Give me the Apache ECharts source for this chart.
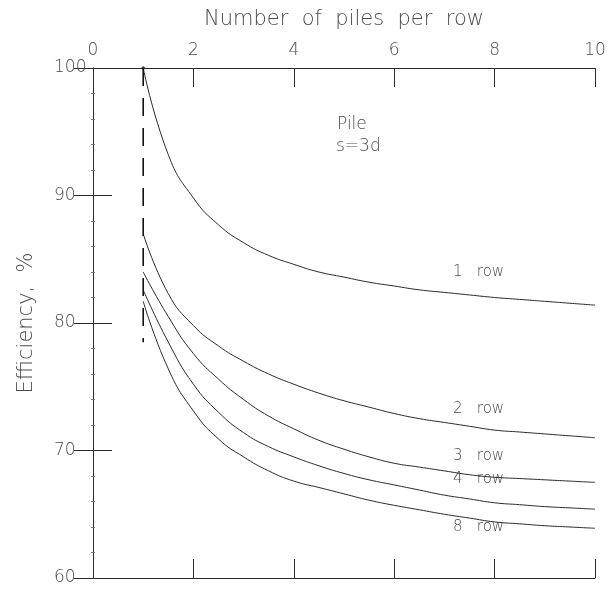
<!DOCTYPE html>
<html>
<head>
<meta charset="utf-8">
<script src="https://cdn.jsdelivr.net/npm/echarts@6/dist/echarts.min.js"></script>
<style>html,body{margin:0;padding:0;background:#fff;}#c{width:612px;height:589px;}</style>
</head>
<body>
<div id="c"></div>
<script>
// Number of piles per row (x values)
var pilesPerRow = [1, 1.5, 2, 2.5, 3, 3.5, 4, 4.5, 5, 5.5, 6, 6.5, 7, 7.5, 8, 8.5, 9, 9.5, 10];
// Efficiency, % for each row count
var row1 = [100, 93.2, 89.8, 87.7, 86.3, 85.3, 84.6, 84.0, 83.6, 83.2, 82.9, 82.6, 82.4, 82.2, 82.0, 81.85, 81.7, 81.55, 81.4];
var row2 = [87.0, 82.3, 79.8, 78.2, 77.0, 76.0, 75.2, 74.5, 73.9, 73.4, 72.9, 72.5, 72.2, 71.9, 71.6, 71.45, 71.3, 71.15, 71.0];
var row3 = [84.0, 80.5, 77.6, 75.6, 74.0, 72.7, 71.7, 70.8, 70.1, 69.5, 69.0, 68.7, 68.4, 68.1, 67.9, 67.8, 67.7, 67.6, 67.5];
var row4 = [82.6, 78.5, 75.2, 73.0, 71.4, 70.3, 69.5, 68.8, 68.2, 67.7, 67.3, 66.9, 66.5, 66.2, 65.9, 65.75, 65.6, 65.5, 65.4];
var row8 = [81.7, 76.4, 73.1, 70.9, 69.5, 68.4, 67.6, 67.1, 66.6, 66.1, 65.7, 65.35, 65.0, 64.7, 64.4, 64.25, 64.1, 64.0, 63.9];
// dashed reference line at one pile per row
var refX = [1, 1];
var refY = [100, 78.5];
// axis ticks
var xTicks = [0, 2, 4, 6, 8, 10];
var yTicks = [60, 70, 80, 90, 100];
var curveLabels = ['1   row', '2   row', '3   row', '4   row', '8   row'];

function pairs(xs, ys) { return xs.map(function (x, i) { return [x, ys[i]]; }); }

var chart = echarts.init(document.getElementById('c'), null, {renderer: 'canvas'});
var lineCol = '#2a2a2a';
var txtCol = '#4a4a4a';
var font = 'DejaVu Sans';
var fw = 200;

function curve(name, ys) {
  return {
    name: name, type: 'line', xAxisIndex: 0, yAxisIndex: 0,
    data: pairs(pilesPerRow, ys), smooth: 0.5, showSymbol: false,
    lineStyle: {color: lineCol, width: 1}, animation: false, silent: true
  };
}

var series = [
  curve('1 row', row1), curve('2 row', row2), curve('3 row', row3), curve('4 row', row4), curve('8 row', row8),
  {
    name: 'ref', type: 'line', xAxisIndex: 0, yAxisIndex: 0,
    data: pairs(refX, refY), showSymbol: false,
    lineStyle: {color: '#111', width: 1.6, type: [18, 12]}, animation: false, silent: true
  },
  {
    name: 'dot', type: 'scatter', xAxisIndex: 0, yAxisIndex: 0,
    data: [[refX[0], refY[0]]], symbolSize: 3.5, itemStyle: {color: '#111'}, animation: false, silent: true
  }
];

var tickStyle = {show: true, inside: true, length: 19, lineStyle: {color: lineCol, width: 1}};
var minor = {show: true, splitNumber: 5, length: 2, lineStyle: {color: '#777', width: 1}};

var labelPos = [[453, 275], [453, 412], [453, 459], [453, 482], [453, 530]];

chart.setOption({
  backgroundColor: '#fff',
  animation: false,
  grid: {left: 93, top: 68, right: 17, bottom: 11, containLabel: false},
  xAxis: [
    {
      type: 'value', position: 'top', min: 0, max: 10, interval: 2,
      name: 'Number  of  piles  per  row', nameLocation: 'middle', nameGap: 38,
      nameTextStyle: {color: txtCol, fontSize: 21, fontFamily: font, fontWeight: fw},
      axisLine: {show: true, lineStyle: {color: lineCol, width: 1}},
      axisTick: tickStyle, splitLine: {show: false},
      axisLabel: {color: txtCol, fontSize: 17, fontFamily: font, fontWeight: fw, margin: 9,
        formatter: function (v) { return xTicks.indexOf(v) >= 0 ? String(v) : ''; }}
    },
    {
      type: 'value', position: 'bottom', min: 0, max: 10, interval: 2,
      axisLine: {show: true, lineStyle: {color: lineCol, width: 1}},
      axisTick: tickStyle, axisLabel: {show: false}, splitLine: {show: false}
    }
  ],
  yAxis: [
    {
      type: 'value', position: 'left', min: 60, max: 100, interval: 10,
      name: 'Efficiency,  %', nameLocation: 'middle', nameGap: 56, nameRotate: 90,
      nameTextStyle: {color: txtCol, fontSize: 21, fontFamily: font, fontWeight: fw},
      axisLine: {show: true, lineStyle: {color: lineCol, width: 1}},
      axisTick: tickStyle, minorTick: minor, splitLine: {show: false}, minorSplitLine: {show: false},
      axisLabel: {color: txtCol, fontSize: 17, fontFamily: font, fontWeight: fw, margin: 39, align: 'left',
        formatter: function (v) { return yTicks.indexOf(v) >= 0 ? String(v) : ''; }}
    },
    {
      type: 'value', position: 'right', min: 60, max: 100, interval: 10,
      axisLine: {show: true, lineStyle: {color: lineCol, width: 1}},
      axisTick: tickStyle, minorTick: minor, axisLabel: {show: false}, splitLine: {show: false}, minorSplitLine: {show: false}
    }
  ],
  graphic: [
    {type: 'text', left: 337, top: 116, style: {text: 'Pile', fill: txtCol, fontSize: 17, fontFamily: font, fontWeight: fw}},
    {type: 'text', left: 336, top: 138, style: {text: 's=3d', fill: txtCol, fontSize: 17, fontFamily: font, fontWeight: fw}}
  ].concat(curveLabels.map(function (t, i) {
    return {type: 'text', left: labelPos[i][0], top: labelPos[i][1] - 10,
      style: {text: t, fill: txtCol, fontSize: 15, fontFamily: font, fontWeight: fw}};
  })),
  series: series
});
</script>
</body>
</html>
